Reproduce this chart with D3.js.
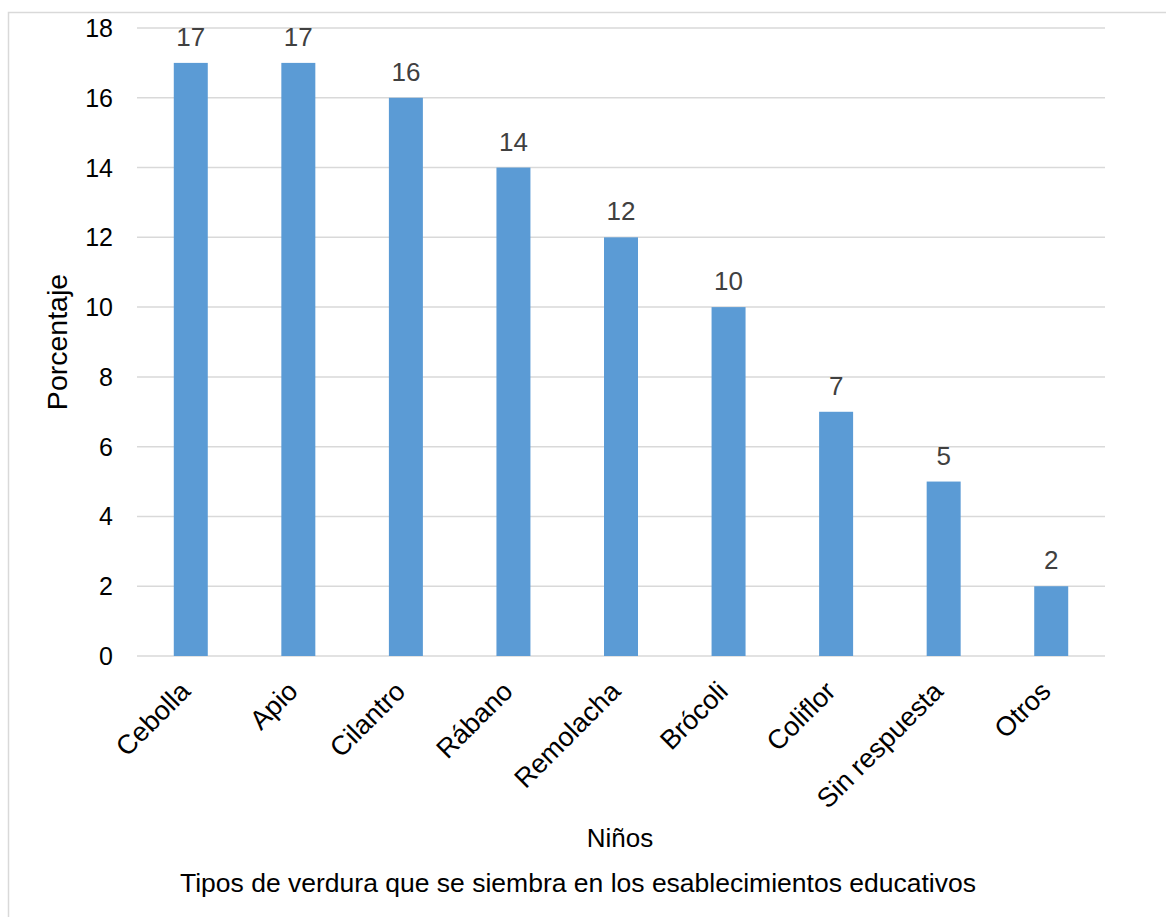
<!DOCTYPE html>
<html><head><meta charset="utf-8">
<script src="https://cdn.jsdelivr.net/npm/d3@7"></script>
<style>body{margin:0;background:#fff}svg{display:block;font-family:"Liberation Sans",Arial,sans-serif}</style>
</head><body><svg id="c" width="1166" height="917"></svg>
<script>
const categories = ["Cebolla","Apio","Cilantro","Rábano","Remolacha","Brócoli","Coliflor","Sin respuesta","Otros"];
const values = [17,17,16,14,12,10,7,5,2];
const yTicks = [0,2,4,6,8,10,12,14,16,18];
const yTitle = "Porcentaje";
const xTitle = "Niños";
const caption = "Tipos de verdura que se siembra en los esablecimientos educativos";

const svg = d3.select("#c");
svg.append("rect").attr("x",8.5).attr("y",12.5).attr("width",1170).attr("height",920)
  .attr("fill","#fff").attr("stroke","#d9d9d9").attr("stroke-width",1.5);

const L=137, R=1105, T=28, B=656;
const x = d3.scaleBand().domain(categories).range([L,R]).paddingInner(0.684).paddingOuter(0.342);
const y = d3.scaleLinear().domain([0,18]).range([B,T]);

svg.append("g").selectAll("line").data(yTicks).join("line")
  .attr("x1",L).attr("x2",R).attr("y1",d=>y(d)).attr("y2",d=>y(d))
  .attr("stroke","#d9d9d9").attr("stroke-width",1.5);

svg.append("g").selectAll("text").data(yTicks).join("text")
  .attr("x",113).attr("y",d=>y(d)).attr("dy","0.36em").attr("text-anchor","end")
  .attr("font-size",25).attr("fill","#000").text(d=>d);

svg.append("g").selectAll("rect").data(values).join("rect")
  .attr("x",(d,i)=>x(categories[i])).attr("width",x.bandwidth())
  .attr("y",d=>y(d)).attr("height",d=>y(0)-y(d)).attr("fill","#5b9bd5");

svg.append("g").selectAll("text").data(values).join("text")
  .attr("x",(d,i)=>x(categories[i])+x.bandwidth()/2).attr("y",d=>y(d)-17)
  .attr("text-anchor","middle").attr("font-size",26).attr("fill","#404040").text(d=>d);

svg.append("g").selectAll("text").data(categories).join("text")
  .attr("transform",d=>`translate(${x(d)+x.bandwidth()/2+1},${B+37}) rotate(-45)`)
  .attr("text-anchor","end").attr("font-size",27).attr("fill","#000").text(d=>d);

svg.append("text").attr("transform",`translate(67,${(T+B)/2}) rotate(-90)`)
  .attr("text-anchor","middle").attr("font-size",28.5).attr("fill","#000").text(yTitle);
svg.append("text").attr("x",620).attr("y",847).attr("text-anchor","middle")
  .attr("font-size",26).attr("fill","#000").text(xTitle);
svg.append("text").attr("x",578).attr("y",892).attr("text-anchor","middle")
  .attr("font-size",26.5).attr("fill","#000").text(caption);
</script></body></html>
